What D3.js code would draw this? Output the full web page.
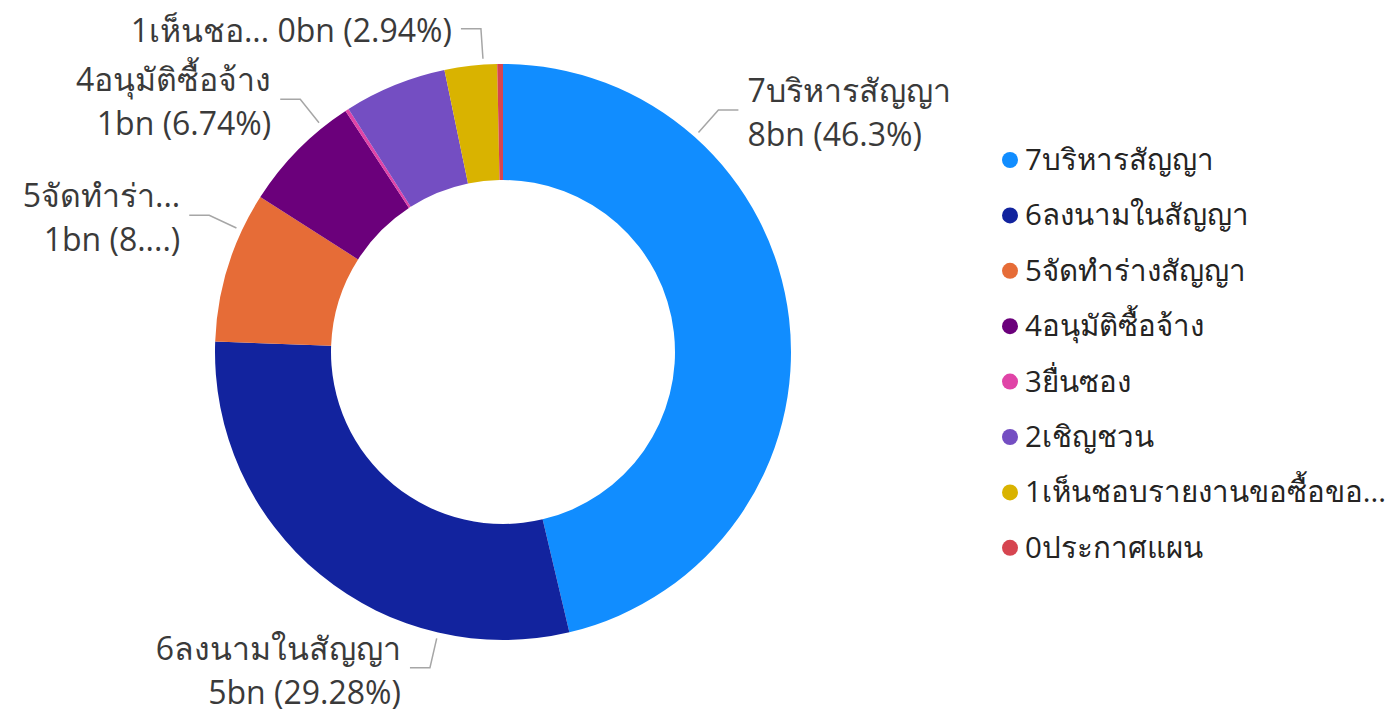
<!DOCTYPE html>
<html>
<head>
<meta charset="utf-8">
<script src="https://cdn.jsdelivr.net/npm/d3@7"></script>
<style>
    body { margin: 0; background: #fff; }
    text { font-family: "Segoe UI", "Open Sans", "Noto Sans", sans-serif; }
</style>
</head>
<body>
<svg id="dona"></svg>
<script>
const WIDTH = 1390,
    HEIGHT = 714;

// datos (valores en bn)
const categorias = ["7บริหารสัญญา", "6ลงนามในสัญญา", "5จัดทำร่างสัญญา", "4อนุมัติซื้อจ้าง",
    "3ยื่นซอง", "2เชิญชวน", "1เห็นชอบรายงานขอซื้อขอจ้าง", "0ประกาศแผน"];
const valores = [7.640, 4.831, 1.398, 1.112, 0.033, 0.949, 0.485, 0.053];
const colores = ["#118DFF", "#12239E", "#E66C37", "#6B007B", "#E044A7", "#744EC2", "#D9B300", "#D64550"];

// textos tal como se ven (recortados)
const leyendaTextos = ["7บริหารสัญญา", "6ลงนามในสัญญา", "5จัดทำร่างสัญญา", "4อนุมัติซื้อจ้าง",
    "3ยื่นซอง", "2เชิญชวน", "1เห็นชอบรายงานขอซื้อขอ...", "0ประกาศแผน"];
const nombreRecortado = [null, null, "5จัดทำร่า...", null, null, null, "1เห็นชอ...", null];
const porcentajeRecortado = [null, null, "8....", null, null, null, null, null];

// posicion del conector dentro de cada porcion (null = sin etiqueta)
const posConector = [0.25, 0.25, 0.75, 0.77, null, null, 0.74, null];
const unaLinea = [false, false, false, false, false, false, true, false];

const centro = { x: 503, y: 352 };
const radioExt = 288,
    radioInt = 172;

const total = d3.sum(valores);
const formatoPct = d3.format(".2~f");

const datos = categorias.map((c, i) => ({
    categoria: c,
    valor: valores[i],
    color: colores[i],
    i: i
}));

const svg = d3.select("#dona")
    .attr("width", WIDTH)
    .attr("height", HEIGHT);

const pie = d3.pie()
    .value(d => d.valor)
    .sort(null);

const arco = d3.arc()
    .innerRadius(radioInt)
    .outerRadius(radioExt);

const contenedorDona = svg
    .append("g")
    .attr("transform", `translate(${centro.x} ${centro.y})`);

const porciones = pie(datos);

contenedorDona
    .selectAll("path")
    .data(porciones)
    .join("path")
    .attr("fill", d => d.data.color)
    .attr("d", arco);

// etiquetas con conector
const etiquetadas = porciones.filter(d => posConector[d.data.i] !== null);

const puntoEn = (a, r) => [r * Math.sin(a), -r * Math.cos(a)];

const grupoEtiquetas = contenedorDona
    .selectAll("g.etiqueta")
    .data(etiquetadas)
    .join("g")
    .attr("class", "etiqueta");

grupoEtiquetas.each(function (d) {
    const i = d.data.i;
    const a = d.startAngle + posConector[i] * (d.endAngle - d.startAngle);
    const p0 = puntoEn(a, radioExt + 6);
    const p1 = puntoEn(a, radioExt + 36);
    const lado = Math.sin(a) >= 0 ? 1 : -1;
    const p2 = [p1[0] + lado * 20, p1[1]];

    d3.select(this)
        .append("polyline")
        .attr("points", [p0, p1, p2].map(p => p.join(",")).join(" "))
        .attr("fill", "none")
        .attr("stroke", "#a6a6a6")
        .attr("stroke-width", 1.5);

    const nombre = nombreRecortado[i] || d.data.categoria;
    const pct = porcentajeRecortado[i] || formatoPct(d.data.valor / total * 100) + "%";
    const valorTxt = `${Math.round(d.data.valor)}bn (${pct})`;
    const lineas = unaLinea[i] ? [`${nombre} ${valorTxt}`] : [nombre, valorTxt];

    const texto = d3.select(this)
        .append("text")
        .attr("x", p2[0] + lado * 9)
        .attr("y", p2[1])
        .attr("text-anchor", lado > 0 ? "start" : "end")
        .attr("fill", "#3a3a3a")
        .attr("font-size", 32);

    texto.selectAll("tspan")
        .data(lineas)
        .join("tspan")
        .attr("x", p2[0] + lado * 9)
        .attr("dy", (l, k) => k === 0 ? (lineas.length === 1 ? 13 : -8) : 44)
        .text(l => l);
});

// leyenda
const leyenda = svg
    .append("g")
    .attr("transform", "translate(1010 160)");

const filas = leyenda
    .selectAll("g")
    .data(datos)
    .join("g")
    .attr("transform", (d, i) => `translate(0 ${i * 55.4})`);

filas.append("circle")
    .attr("r", 8)
    .attr("fill", d => d.color);

filas.append("text")
    .attr("x", 15)
    .attr("y", 10)
    .attr("font-size", 29.5)
    .attr("fill", "#252423")
    .text((d, i) => leyendaTextos[i]);
</script>
</body>
</html>
